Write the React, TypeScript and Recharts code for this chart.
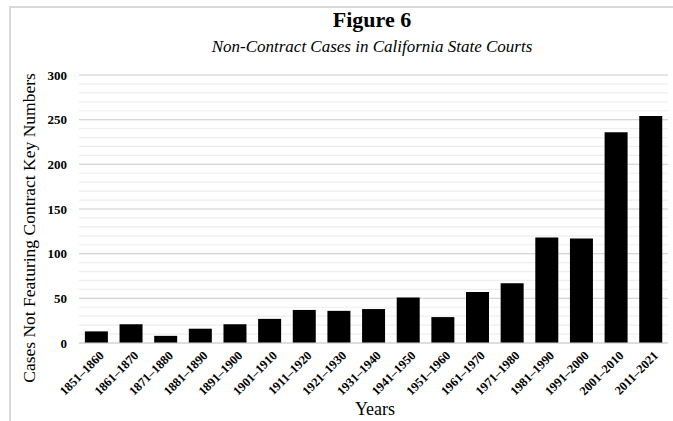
import React from 'react';
import { BarChart, Bar, XAxis, YAxis, CartesianGrid } from 'recharts';

const decades = [
  '1851–1860', '1861–1870', '1871–1880', '1881–1890', '1891–1900', '1901–1910',
  '1911–1920', '1921–1930', '1931–1940', '1941–1950', '1951–1960', '1961–1970',
  '1971–1980', '1981–1990', '1991–2000', '2001–2010', '2011–2021',
];
const cases = [13, 21, 8, 16, 21, 27, 37, 36, 38, 51, 29, 57, 67, 118, 117, 236, 254];
const majorTicks = [0, 50, 100, 150, 200, 250, 300];
const minorTicks = [
  0, 10, 20, 30, 40, 50, 60, 70, 80, 90, 100, 110, 120, 130, 140, 150, 160, 170, 180,
  190, 200, 210, 220, 230, 240, 250, 260, 270, 280, 290, 300,
];

const title = 'Figure 6';
const subtitle = 'Non-Contract Cases in California State Courts';
const yLabel = 'Cases Not Featuring Contract Key Numbers';
const xLabel = 'Years';

const data = decades.map((d, i) => ({ decade: d, cases: cases[i] }));

const FONT = "'Liberation Serif', 'Times New Roman', serif";

const YTick = (props: any) => {
  const { x, y, payload } = props;
  return (
    <text
      x={x}
      y={y}
      dy={4.5}
      textAnchor="end"
      style={{ fontFamily: FONT, fontSize: 13, fontWeight: 'bold' }}
      fill="#000"
    >
      {payload.value}
    </text>
  );
};

export default function App() {
  return (
    <div
      style={{
        position: 'absolute',
        left: 0,
        top: 0,
        width: 673,
        height: 421,
        overflow: 'hidden',
        background: '#fff',
        fontFamily: FONT,
      }}
    >
      <div
        style={{
          position: 'absolute',
          left: 9,
          top: 6,
          width: 800,
          height: 600,
          border: '2px solid #d9d9d9',
        }}
      />
      <BarChart
        width={673}
        height={421}
        data={data}
        margin={{ top: 75, right: 5, bottom: 0, left: 0 }}
        barCategoryGap="17%"
      >
        <CartesianGrid
          vertical={false}
          horizontalValues={minorTicks}
          stroke="#eeeeee"
          strokeWidth={1.2}
        />
        <CartesianGrid
          vertical={false}
          horizontalValues={majorTicks}
          stroke="#d6d6d6"
          strokeWidth={1.2}
        />
        <XAxis
          dataKey="decade"
          height={78}
          interval={0}
          angle={-45}
          textAnchor="end"
          dx={2}
          dy={-1}
          tick={{ fontSize: 12.5, fontWeight: 700, fill: '#000', fontFamily: 'Liberation Serif' }}
          tickLine={false}
          axisLine={{ stroke: '#d6d6d6', strokeWidth: 1.2 }}
        />
        <YAxis
          width={79}
          domain={[0, 300]}
          ticks={majorTicks}
          interval={0}
          axisLine={false}
          tickLine={false}
          tickMargin={6}
          tick={<YTick />}
        />
        <Bar dataKey="cases" fill="#000" isAnimationActive={false} />
      </BarChart>
      <div
        style={{
          position: 'absolute',
          left: 272,
          width: 200,
          top: 7,
          textAlign: 'center',
          fontSize: 22,
          fontWeight: 'bold',
          lineHeight: '26px',
          color: '#000',
        }}
      >
        {title}
      </div>
      <div
        style={{
          position: 'absolute',
          left: 122,
          width: 500,
          top: 37,
          textAlign: 'center',
          fontSize: 17,
          fontStyle: 'italic',
          lineHeight: '20px',
          color: '#000',
        }}
      >
        {subtitle}
      </div>
      <div
        style={{
          position: 'absolute',
          left: 29 - 200,
          top: 228 - 11,
          width: 400,
          height: 22,
          lineHeight: '22px',
          textAlign: 'center',
          fontSize: 17.5,
          transform: 'rotate(-90deg)',
          color: '#000',
          whiteSpace: 'nowrap',
        }}
      >
        {yLabel}
      </div>
      <div
        style={{
          position: 'absolute',
          left: 275,
          width: 200,
          top: 399,
          textAlign: 'center',
          fontSize: 18,
          lineHeight: '20px',
          color: '#000',
        }}
      >
        {xLabel}
      </div>
    </div>
  );
}
